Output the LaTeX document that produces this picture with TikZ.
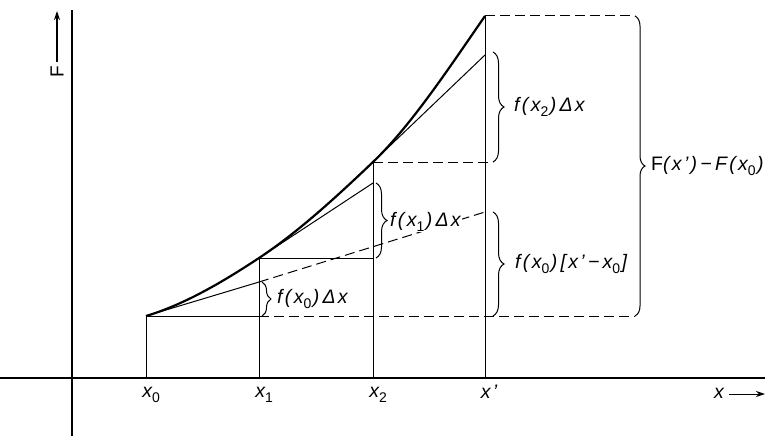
\documentclass[tikz,border=0pt]{standalone}
\usepackage{fontspec}
\setmainfont{Liberation Sans}
\newfontfamily\labfont[LetterSpace=12]{Liberation Sans}
\usetikzlibrary{decorations.pathreplacing,arrows.meta}
\newcommand\lsub[1]{\raisebox{-0.45ex}{\fontsize{14}{14}\selectfont\upshape #1}\kern1.5pt}
\begin{document}
\begin{tikzpicture}[x=1pt,y=-1pt,
  lab/.style={font=\labfont\itshape\fontsize{19.5}{22}\selectfont, inner sep=1pt, anchor=west},
  axis/.style={line width=1.2pt},
  thinline/.style={line width=1pt},
  curveline/.style={line width=2.2pt},
  dashline/.style={line width=1pt, dash pattern=on 10pt off 5pt},
  brc/.style={line width=1pt, decorate, decoration={brace, amplitude=#1}},
  brc/.default=11]
\useasboundingbox (0,0) rectangle (765,436);
% axes
\coordinate (ytop) at (72,10);
\coordinate (ybot) at (72,436);
\coordinate (xl) at (0,378);
\coordinate (xr) at (765,378);
\draw[axis] (ybot) -- (ytop);
\draw[axis] (xl) -- (xr);
% points
\coordinate (P0) at (146,316);
\coordinate (P1) at (259,258);
\coordinate (P2) at (373,162);
\coordinate (P3) at (485,16);
\coordinate (B0) at (146,378);
\coordinate (B1) at (259,378);
\coordinate (B2) at (373,378);
\coordinate (B3) at (485,378);
\coordinate (T0) at (259,282);
\coordinate (T1) at (373,183);
\coordinate (T2) at (485,55);
\coordinate (D0) at (485,212);
\coordinate (Q1) at (259,316);
\coordinate (R2) at (373,258);
\coordinate (E0) at (635,316);
\coordinate (E3) at (635,16);
\coordinate (E2) at (493,162);
% verticals
\draw[thinline] (B0) -- (P0);
\draw[thinline] (B1) -- (P1);
\draw[thinline] (B2) -- (P2);
\draw[thinline] (B3) -- (P3);
% horizontals
\draw[thinline] (P0) -- (Q1);
\draw[thinline] (P1) -- (R2);
\draw[dashline] (Q1) -- (E0);
\draw[dashline] (P2) -- (E2);
\draw[dashline] (P3) -- (E3);
% tangents
\draw[thinline] (P0) -- (T0);
\draw[dashline] (T0) -- (D0);
\draw[thinline] (P1) -- (T1);
\draw[thinline] (P2) -- (T2);
% curve
\draw[curveline] (P0) .. controls (183.7,304.7) and (221.3,282.9) .. (P1)
  .. controls (297,232.9) and (335,198.3) .. (P2)
  .. controls (410.3,126.4) and (447.7,70) .. (P3);
% braces
\draw[brc=9] (262,282) -- (262,316);
\draw[brc] (376,183) -- (376,258);
\draw[brc] (493,52) -- (493,162);
\draw[brc] (493,212) -- (493,316);
\draw[brc=10] (E3) -- (E0);
% labels
\node[lab] (l0) at (276,299) {f(x\lsub{0})\,Δx};
\node[lab, fill=white] (l1) at (389,222) {f(x\lsub{1})\,Δx};
\node[lab] (l2) at (513,107) {f(x\lsub{2})\,Δx};
\node[lab] (l3) at (514,264) {f(x\lsub{0})\,[x’\,−\,x\lsub{0}]};
\node[lab] (l4) at (650,166) {{\upshape F}(x’)\,−\,F(x\lsub{0})};
% axis labels
\node[lab, anchor=center] (a0) at (152,395) {x\lsub{0}};
\node[lab, anchor=center] (a1) at (265,395) {x\lsub{1}};
\node[lab, anchor=center] (a2) at (379,395) {x\lsub{2}};
\node[lab, anchor=center] (a3) at (489,392) {x’};
\node[lab, anchor=center] (ax) at (719,393) {x};
\coordinate (xa1) at (729,394);
\coordinate (xa2) at (765,394);
\draw[thinline, -{Stealth[length=9pt,width=6pt]}] (xa1) -- (xa2);
\node[lab, anchor=center, rotate=90, font=\labfont\upshape\fontsize{19}{22}\selectfont] (fy) at (57,72) {F};
\coordinate (fa1) at (57,62);
\coordinate (fa2) at (57,11);
\draw[line width=1.3pt, -{Stealth[length=9pt,width=6pt]}] (fa1) -- (fa2);
\end{tikzpicture}
\end{document}
